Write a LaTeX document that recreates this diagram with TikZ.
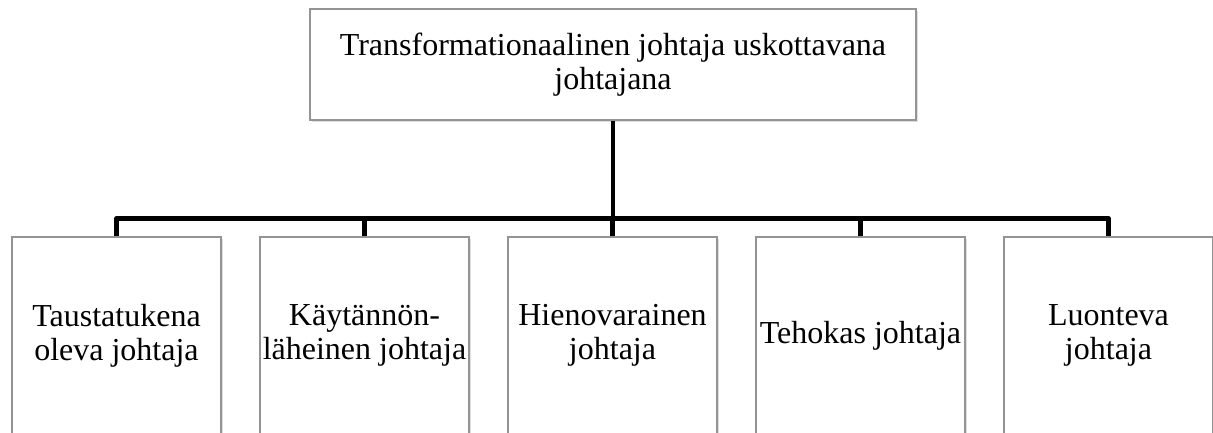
\documentclass[tikz,border=0pt]{standalone}
\usepackage{fontspec}
\setmainfont{Liberation Serif}
\usetikzlibrary{shadows}
\begin{document}
\begin{tikzpicture}[x=0.75pt,y=-0.75pt,
  box/.style={draw=black!42, line width=0.8pt, fill=white, inner sep=0pt, align=center,
    font=\fontsize{24}{25.5}\selectfont,
    drop shadow={shadow xshift=1.2pt, shadow yshift=-1.2pt, opacity=0.25}},
  topbox/.style={box, minimum width=606*0.75pt, minimum height=111*0.75pt},
  childbox/.style={box, minimum width=209*0.75pt, minimum height=197*0.75pt},
  conn/.style={line width=3.5pt, line join=round}]
\useasboundingbox (0,0) rectangle (1213,432);
% root
\node[topbox] (top) at (613,64.5) {Transformationaalinen johtaja uskottavana\\johtajana};
% children
\node[childbox] (c1) at (116.5,335.5) {Taustatukena\\oleva johtaja};
\node[childbox] (c2) at (364.5,335.5) {Käytännön-\\läheinen johtaja};
\node[childbox] (c3) at (612.5,335.5) {Hienovarainen\\johtaja};
\node[childbox] (c4) at (860.5,335.5) {Tehokas johtaja};
\node[childbox] (c5) at (1108.5,335.5) {Luonteva\\johtaja};
% connectors
\coordinate (bus) at (613,218.5);
\draw[conn] (top.south) -- (bus);
\draw[conn] (c1.north) |- (bus) -| (c5.north);
\draw[conn] (c2.north) -- (c2.north |- bus);
\draw[conn] (c3.north) -- (c3.north |- bus);
\draw[conn] (c4.north) -- (c4.north |- bus);
\end{tikzpicture}
\end{document}
